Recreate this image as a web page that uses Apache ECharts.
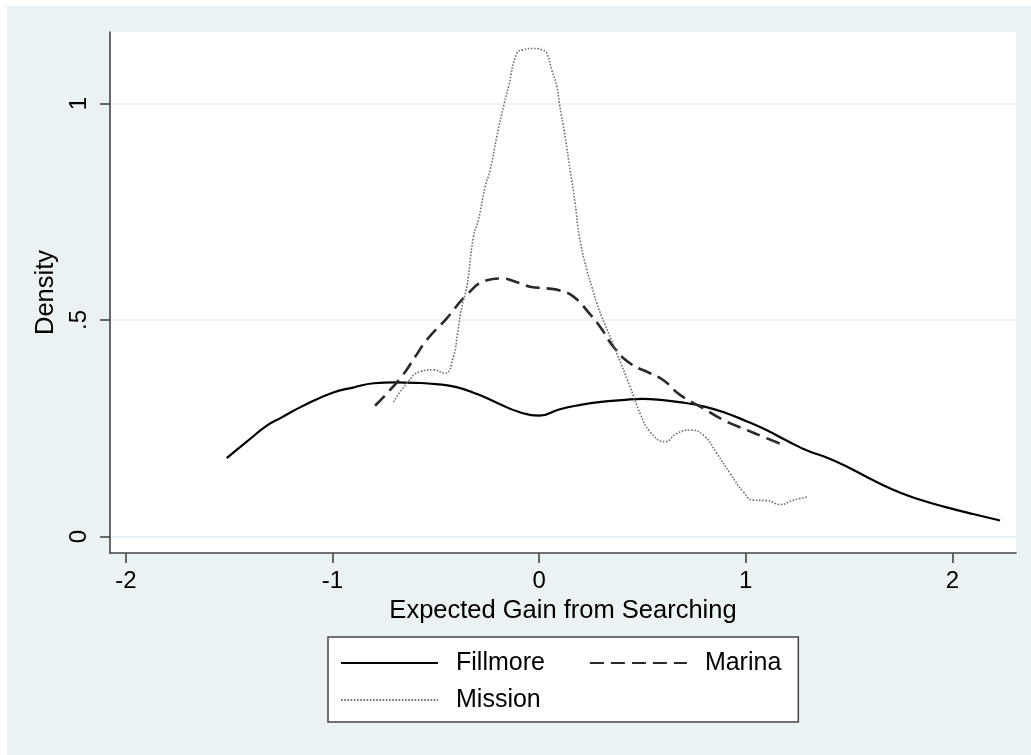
<!DOCTYPE html>
<html>
<head>
<meta charset="utf-8">
<script src="https://cdn.jsdelivr.net/npm/echarts@6/dist/echarts.min.js"></script>
<style>
  html, body { margin: 0; padding: 0; background: #ffffff; }
  #chart { position: absolute; left: 7px; top: 6px; width: 1024px; height: 749px; background: #eaf2f3; }
</style>
</head>
<body>
<div id="chart"></div>
<script>
// ---- data ----
const fillmoreX = [-1.512, -1.415, -1.318, -1.25, -1.15, -1.0, -0.9, -0.8, -0.7, -0.6, -0.5, -0.4, -0.3, -0.2, -0.1, 0.0, 0.1, 0.2, 0.3, 0.4, 0.5, 0.6, 0.7, 0.8, 0.9, 1.0, 1.1, 1.2, 1.3, 1.4, 1.5, 1.6, 1.7, 1.8, 1.9, 2.0, 2.1, 2.231];
const fillmoreY = [0.181, 0.219, 0.256, 0.274, 0.300, 0.332, 0.344, 0.354, 0.356, 0.355, 0.352, 0.345, 0.329, 0.308, 0.288, 0.279, 0.294, 0.304, 0.311, 0.315, 0.318, 0.315, 0.309, 0.300, 0.286, 0.267, 0.246, 0.221, 0.198, 0.181, 0.159, 0.134, 0.111, 0.092, 0.077, 0.064, 0.052, 0.037];

const marinaX = [-0.794, -0.673, -0.6, -0.544, -0.447, -0.35, -0.253, -0.189, -0.092, -0.044, 0.037, 0.10, 0.166, 0.247, 0.30, 0.36, 0.44, 0.537, 0.602, 0.682, 0.795, 0.892, 1.005, 1.086, 1.183];
const marinaY = [0.302, 0.365, 0.415, 0.454, 0.504, 0.558, 0.592, 0.596, 0.585, 0.577, 0.573, 0.568, 0.554, 0.513, 0.481, 0.438, 0.400, 0.377, 0.361, 0.327, 0.296, 0.269, 0.246, 0.230, 0.211];

const missionX = [-0.705, -0.640, -0.576, -0.512, -0.455, -0.415, -0.395, -0.374, -0.350, -0.318, -0.294, -0.261, -0.237, -0.205, -0.169, -0.148, -0.108, -0.076, -0.028, 0.013, 0.037, 0.061, 0.086, 0.098, 0.126, 0.150, 0.174, 0.195, 0.231, 0.255, 0.279, 0.303, 0.376, 0.44, 0.489, 0.537, 0.610, 0.666, 0.731, 0.795, 0.860, 0.924, 0.989, 1.037, 1.102, 1.167, 1.231, 1.304];
const missionY = [0.311, 0.354, 0.381, 0.385, 0.377, 0.415, 0.469, 0.531, 0.577, 0.692, 0.731, 0.808, 0.846, 0.923, 1.000, 1.039, 1.116, 1.124, 1.127, 1.124, 1.116, 1.077, 1.039, 1.000, 0.923, 0.846, 0.770, 0.692, 0.615, 0.577, 0.539, 0.508, 0.423, 0.346, 0.284, 0.242, 0.219, 0.238, 0.246, 0.234, 0.192, 0.146, 0.103, 0.084, 0.083, 0.074, 0.084, 0.092];

const xTickValues = [-2, -1, 0, 1, 2];
const yTickValues = [0, 0.5, 1];
const yTickLabels = ['0', '.5', '1'];
const seriesNames = ['Fillmore', 'Marina', 'Mission'];

function pairs(xs, ys) { return xs.map((x, i) => [x, ys[i]]); }

const FONT = '"Liberation Sans", Arial, Helvetica, sans-serif';
const chart = echarts.init(document.getElementById('chart'), null, { renderer: 'canvas' });

const legendText = { color: '#000', fontFamily: FONT, fontSize: 25, lineHeight: 27, padding: [0, 0, 0, 13] };

chart.setOption({
  animation: false,
  backgroundColor: 'transparent',
  grid: {
    left: 103, top: 26, width: 906, height: 521,
    show: true, backgroundColor: '#ffffff', borderWidth: 0,
    containLabel: false
  },
  xAxis: {
    type: 'value', min: -2.077, max: 2.308, position: 'bottom',
    name: 'Expected Gain from Searching', nameLocation: 'middle', nameGap: 43,
    nameTextStyle: { color: '#000', fontFamily: FONT, fontSize: 25.5, lineHeight: 25 },
    axisLine: { show: true, onZero: false, lineStyle: { color: '#444', width: 1.6 } },
    axisTick: { show: true, length: 10, customValues: xTickValues, lineStyle: { color: '#444', width: 1.6 } },
    axisLabel: { show: true, customValues: xTickValues, margin: 16, color: '#000', fontFamily: FONT, fontSize: 24, lineHeight: 24 },
    splitLine: { show: false }
  },
  yAxis: {
    type: 'value', min: -0.038, max: 1.165, position: 'left',
    name: 'Density', nameLocation: 'middle', nameGap: 48, nameRotate: 90,
    nameTextStyle: { color: '#000', fontFamily: FONT, fontSize: 25.5, lineHeight: 25 },
    axisLine: { show: true, onZero: false, lineStyle: { color: '#444', width: 1.6 } },
    axisTick: { show: true, length: 10, customValues: yTickValues, lineStyle: { color: '#444', width: 1.6 } },
    axisLabel: {
      show: true, customValues: yTickValues, rotate: 90, margin: 19,
      color: '#000', fontFamily: FONT, fontSize: 24, lineHeight: 24,
      formatter: function (v) { const i = yTickValues.indexOf(v); return i >= 0 ? yTickLabels[i] : ''; }
    },
    splitLine: { show: true, lineStyle: { color: '#eaf2f3', width: 2 } }
  },
  legend: [
    {
      data: [seriesNames[0], seriesNames[1]],
      orient: 'horizontal', left: 321, top: 631,
      padding: [12.5, 17, 45.5, 12],
      itemWidth: 97, itemHeight: 27, itemGap: 44,
      backgroundColor: '#ffffff', borderColor: '#444', borderWidth: 1.5,
      itemStyle: { opacity: 0 },
      textStyle: legendText, selectedMode: false, z: 4
    },
    {
      data: [seriesNames[2]],
      orient: 'horizontal', left: 333, top: 680.5,
      padding: 0,
      itemWidth: 97, itemHeight: 27,
      backgroundColor: 'transparent', borderWidth: 0,
      itemStyle: { opacity: 0 },
      textStyle: legendText, selectedMode: false, z: 6
    }
  ],
  series: [
    {
      name: seriesNames[0], type: 'line', data: pairs(fillmoreX, fillmoreY),
      showSymbol: false, symbol: 'none', smooth: 0.5,
      lineStyle: { color: '#000', width: 2.2, type: 'solid' }, itemStyle: { color: '#000' }, z: 3
    },
    {
      name: seriesNames[1], type: 'line', data: pairs(marinaX, marinaY),
      showSymbol: false, symbol: 'none', smooth: 0.5,
      lineStyle: { color: '#2a2a2a', width: 2.6, type: [14, 7] }, itemStyle: { color: '#2a2a2a' }, z: 3
    },
    {
      name: seriesNames[2], type: 'line', data: pairs(missionX, missionY),
      showSymbol: false, symbol: 'none', smooth: 0.5,
      lineStyle: { color: '#707070', width: 1.6, type: [1.6, 1.6] }, itemStyle: { color: '#707070' }, z: 3
    }
  ]
});
</script>
</body>
</html>
